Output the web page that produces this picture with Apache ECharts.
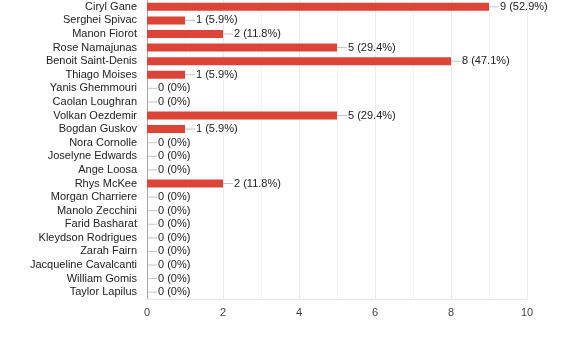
<!DOCTYPE html>
<html><head><meta charset="utf-8">
<script src="https://cdn.jsdelivr.net/npm/echarts@6/dist/echarts.min.js"></script>
<style>html,body{margin:0;padding:0;background:#fff}#c{width:585px;height:352px}</style>
</head><body><div id="c"></div>
<script>
const categories = ["Ciryl Gane","Serghei Spivac","Manon Fiorot","Rose Namajunas","Benoit Saint-Denis","Thiago Moises","Yanis Ghemmouri","Caolan Loughran","Volkan Oezdemir","Bogdan Guskov","Nora Cornolle","Joselyne Edwards","Ange Loosa","Rhys McKee","Morgan Charriere","Manolo Zecchini","Farid Basharat","Kleydson Rodrigues","Zarah Fairn","Jacqueline Cavalcanti","William Gomis","Taylor Lapilus"];
const votes = [9,1,2,5,8,1,0,0,5,1,0,0,0,2,0,0,0,0,0,0,0,0];
const respondents = 17;
const xTicks = [0,2,4,6,8,10];
const chart = echarts.init(document.getElementById('c'), null, {renderer:'canvas'});
chart.setOption({
  animation:false,
  grid:{left:147,right:58,top:0,bottom:53,containLabel:false},
  xAxis:{type:'value',min:xTicks[0],max:xTicks[xTicks.length-1],interval:2,
    axisLine:{show:true,lineStyle:{color:'#e6e6e6'}},axisTick:{show:false},
    axisLabel:{color:'#444',fontSize:11,fontFamily:'Liberation Sans',margin:8},
    splitLine:{show:true,lineStyle:{color:'#ebebeb'}},
    minorTick:{show:false,splitNumber:2},
    minorSplitLine:{show:true,lineStyle:{color:'#f4f4f4'}}},
  yAxis:{type:'category',data:categories,inverse:true,
    axisLine:{show:true,lineStyle:{color:'#b0a0a0'}},axisTick:{show:false},
    axisLabel:{color:'#222',fontSize:11,fontFamily:'Liberation Sans',margin:10,interval:0}},
  series:[{type:'bar',data:votes,barWidth:8,
    itemStyle:{color:'#dc4437'},
    label:{show:true,position:'right',distance:0,
      formatter:p=>'{l|}{t|'+p.value+' ('+(Math.round(p.value/respondents*1000)/10)+'%)}',
      rich:{l:{width:10,height:1,backgroundColor:'#c4c4c4'},
        t:{color:'#222',fontSize:11,fontFamily:'Liberation Sans',padding:[0,0,0,1]}}}}]
});
</script></body></html>
